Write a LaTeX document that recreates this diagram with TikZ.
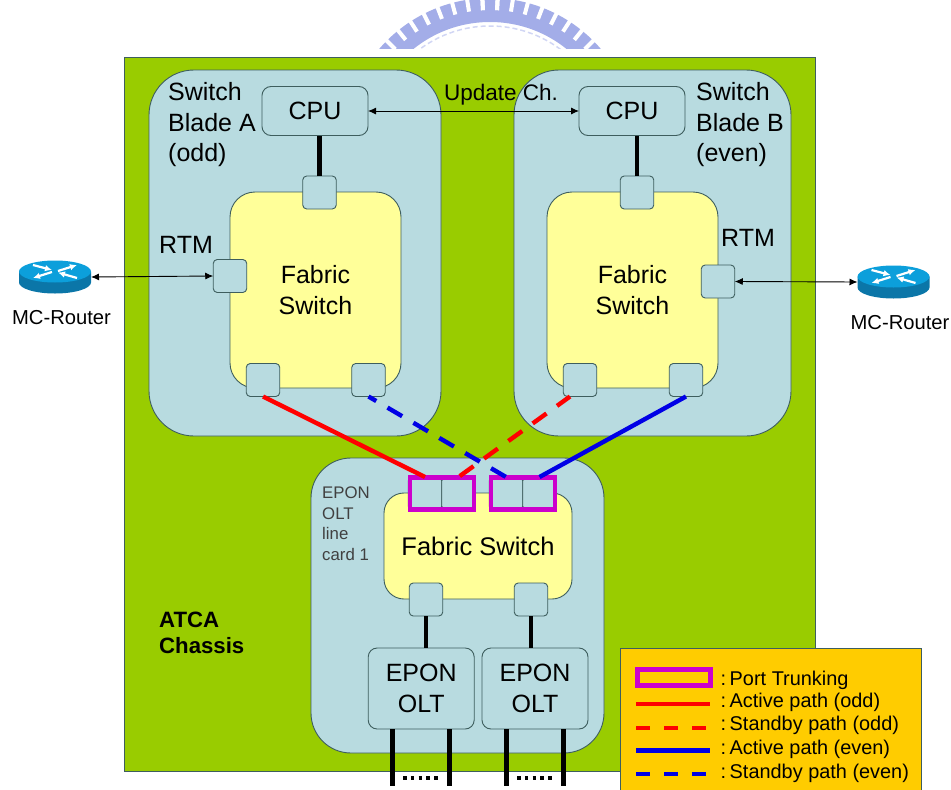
\documentclass[tikz,border=0pt]{standalone}
\usepackage{fontspec}
\setmainfont{Liberation Sans}
\usepackage{tikz}
\usetikzlibrary{arrows.meta,positioning,calc}
\definecolor{chassis}{HTML}{99CC00}
\definecolor{blade}{HTML}{B8DBE0}
\definecolor{fabric}{HTML}{FFFF99}
\definecolor{edge}{HTML}{3E5E5E}
\definecolor{trunkc}{HTML}{CC00CC}
\definecolor{legendc}{HTML}{FFCC00}
\definecolor{oddc}{HTML}{FF0000}
\definecolor{evenc}{HTML}{0000E6}
\definecolor{wmark}{HTML}{A3ADE8}
\definecolor{rtop}{HTML}{0C9FDB}
\definecolor{rside}{HTML}{0B76A8}
\tikzset{routerpic/.pic={
  \fill[rside] (-36,-5.5) -- (-36,5.5) arc[start angle=180,end angle=0,x radius=36,y radius=11] -- (36,-5.5) -- cycle;
  \fill[rtop] (0,-5.5) ellipse[x radius=36,y radius=11];
  \draw[white,line width=2.2pt,-{Latex[length=7pt,width=6.5pt]}] (-22,-12) -- (-3,-7);
  \draw[white,line width=2.2pt,-{Latex[length=7pt,width=6.5pt]}] (3,-6) -- (22,-12);
  \draw[white,line width=2.2pt,-{Latex[length=7pt,width=6.5pt]}] (-3,-5) -- (-22,1);
  \draw[white,line width=2.2pt,-{Latex[length=7pt,width=6.5pt]}] (22,1) -- (3,-4.5);
}}
\begin{document}
\begin{tikzpicture}[x=1pt,y=-1pt,
  big/.style={font=\fontsize{25}{30.5}\selectfont},
  box/.style={draw=edge,line width=0.9pt,inner sep=0pt,outer sep=0pt,align=center},
  bladebox/.style={box,fill=blade,rounded corners=45pt,minimum width=292pt,minimum height=366pt},
  fabbox/.style={box,big,fill=fabric,rounded corners=25pt,minimum width=171pt,minimum height=196pt},
  unit/.style={box,big,fill=blade,rounded corners=9pt,minimum width=106pt,minimum height=49pt},
  port/.style={box,fill=blade,rounded corners=4pt,minimum width=33.5pt,minimum height=33pt},
  trunk/.style={draw=trunkc,line width=4.2pt,inner sep=0pt,outer sep=0pt,minimum width=64pt,minimum height=32pt},
  txt/.style={big,inner sep=0pt,align=left},
  legtxt/.style={inner sep=0pt,anchor=west,font=\fontsize{19.9}{23}\selectfont},
  mctxt/.style={inner sep=0pt,font=\fontsize{20.2}{23}\selectfont},
  routerbox/.style={minimum width=72pt,minimum height=33pt,inner sep=0pt,outer sep=0pt},
  link/.style={{Latex[length=8pt,width=7pt]}-{Latex[length=8pt,width=7pt]},line width=0.9pt},
  bus/.style={line width=4.4pt},
  act/.style={line width=4.4pt},
  stby/.style={line width=4.4pt,dash pattern=on 17pt off 13pt}]
\useasboundingbox (0,0) rectangle (951,790);

\begin{scope}
\clip (370,0) rectangle (615,48);
\draw[wmark,line width=24pt] (490,144)++(-180:134) arc[start angle=-180,end angle=0,radius=134];
\draw[wmark!50,line width=1.5pt,dash pattern=on 5pt off 3pt] (490,144)++(-180:118) arc[start angle=-180,end angle=0,radius=118];
\foreach \a in {-3,3,...,69} {
  \draw[white,line width=4pt] ($(490,144)+(-90+\a:134)$) -- ($(490,144)+(-90+\a:150)$);
  \draw[white,line width=4pt] ($(490,144)+(-90-\a:134)$) -- ($(490,144)+(-90-\a:150)$);
}
\end{scope}

\node[box,fill=chassis,minimum width=691pt,minimum height=714pt] (atca) at (469.5,414) {};
\node[bladebox] (bladeA) at (295,253) {};
\node[bladebox,minimum width=277pt] (bladeB) at (652.5,253) {};
\node[fabbox] (fabA) at (315.5,290) {Fabric\\Switch};
\node[fabbox] (fabB) at (632.5,290) {Fabric\\Switch};
\node[unit] (cpuA) at (315,111) {CPU};
\node[unit] (cpuB) at (632,111) {CPU};

\node[port] (topA) at (319.5,192.5) {};
\node[port] (topB) at (637,192.5) {};
\node[port] (rtmA) at (230,276) {};
\node[port] (rtmB) at (718,281.5) {};
\node[port] (lowAl) at (263,380) {};
\node[port] (lowAr) at (368.5,380) {};
\node[port] (lowBl) at (580,380) {};
\node[port] (lowBr) at (686,380) {};

\node[box,fill=blade,rounded corners=40pt,minimum width=293pt,minimum height=295pt] (card) at (457.5,605.5) {};
\node[box,fill=fabric,rounded corners=20pt,minimum width=188pt,minimum height=106pt,font=\fontsize{25.5}{30}\selectfont] (fabC) at (478,546) {\raisebox{-1.5pt}{Fabric Switch}};
\node[port] (tr1) at (425,493.5) {};
\node[port,right=0pt of tr1] (tr2) {};
\node[port] (tr3) at (506,493.5) {};
\node[port,right=0pt of tr3] (tr4) {};
\node[trunk] (trunkL) at (441.7,493.5) {};
\node[trunk] (trunkR) at (522.8,493.5) {};
\node[port] (lowCl) at (426,599.5) {};
\node[port] (lowCr) at (531,599.5) {};
\node[unit,minimum height=81pt] (oltA) at (421.2,688.5) {EPON\\OLT};
\node[unit,minimum height=81pt] (oltB) at (535,688.5) {EPON\\OLT};

\coordinate (endA) at (392.5,786);
\coordinate (endB) at (449.5,786);
\coordinate (endC) at (506.5,786);
\coordinate (endD) at (563.5,786);
\coordinate (dotA) at (403,778);
\coordinate (dotB) at (517,778);

\draw[bus] (topA.north) -- (topA.north |- cpuA.south);
\draw[bus] (topB.north) -- (topB.north |- cpuB.south);
\draw[bus] (lowCl.south) -- (lowCl.south |- oltA.north);
\draw[bus] (lowCr.south) -- (lowCr.south |- oltB.north);
\draw[bus] (endA |- oltA.south) -- (endA);
\draw[bus] (endB |- oltA.south) -- (endB);
\draw[bus] (endC |- oltB.south) -- (endC);
\draw[bus] (endD |- oltB.south) -- (endD);
\draw[line width=3.6pt,dash pattern=on 3.6pt off 4.2pt] (dotA) -- ++(38,0);
\draw[line width=3.6pt,dash pattern=on 3.6pt off 4.2pt] (dotB) -- ++(38,0);

\draw[act,oddc] (lowAl.south) -- (tr1.north);
\draw[stby,evenc,dash phase=8pt] (lowAr.south) -- (tr3.north);
\draw[stby,oddc,dash phase=1pt] ($(lowBl.south)+(-10,0)$) -- (tr2.north);
\draw[act,evenc] (lowBr.south) -- (tr4.north);

\node[txt,anchor=west] (nameA) at (168,125) {Switch\\Blade A\\(odd)};
\node[txt,anchor=west] (nameB) at (696,125) {Switch\\Blade B\\(even)};
\node[txt,anchor=west] (rtmtA) at (159,245) {RTM};
\node[txt,anchor=west] (rtmtB) at (721,238) {RTM};
\node[inner sep=0pt,font=\fontsize{22.5}{26}\selectfont] (upd) at (501,95) {Update Ch.};
\node[inner sep=0pt,align=left,anchor=west,text=black!75,font=\fontsize{16.8}{20.5}\selectfont] (cardname) at (322,523.5) {EPON\\OLT\\line\\card 1};
\node[inner sep=0pt,align=left,anchor=west,font=\fontsize{22.2}{26}\selectfont\bfseries] (atcaname) at (159,633) {ATCA\\Chassis};

\draw[link] (cpuA.east) -- (cpuB.west);

\node[routerbox] (routerA) at (55,277) {};
\node[routerbox] (routerB) at (893.5,282) {};
\pic at (routerA) {routerpic};
\pic at (routerB) {routerpic};
\node[mctxt] (mcA) at (61.5,318) {MC-Router};
\node[mctxt] (mcB) at (900,322.5) {MC-Router};
\draw[link] (routerA.east) -- (rtmA.west);
\draw[link] (rtmB.east) -- (routerB.west);

\node[box,fill=legendc,minimum width=300.5pt,minimum height=144pt] (legend) at (770.7,720) {};
\node[legtxt] (legT) at (720.5,680) {:\hspace{3.5pt}Port Trunking};
\node[legtxt] (legAo) at (720.5,702.5) {:\hspace{3.5pt}Active path (odd)};
\node[legtxt] (legSo) at (720.5,725.5) {:\hspace{3.5pt}Standby path (odd)};
\node[legtxt] (legAe) at (720.5,749) {:\hspace{3.5pt}Active path (even)};
\node[legtxt] (legSe) at (720.5,773) {:\hspace{3.5pt}Standby path (even)};
\node[trunk,minimum width=73pt,minimum height=16pt,left=10pt of legT,yshift=2.5pt] (legbox) {};
\draw[act,oddc] ([xshift=-84.5pt,yshift=-1.5pt]legAo.west) -- ([xshift=-10.5pt,yshift=-1.5pt]legAo.west);
\draw[act,oddc,dash pattern=on 14pt off 14pt] ([xshift=-84.5pt,yshift=-2.5pt]legSo.west) -- ([xshift=-10.5pt,yshift=-2.5pt]legSo.west);
\draw[act,evenc] ([xshift=-84.5pt,yshift=-1.5pt]legAe.west) -- ([xshift=-10.5pt,yshift=-1.5pt]legAe.west);
\draw[act,evenc,dash pattern=on 14pt off 14pt] ([xshift=-84.5pt,yshift=-1pt]legSe.west) -- ([xshift=-10.5pt,yshift=-1pt]legSe.west);
\end{tikzpicture}
\end{document}
